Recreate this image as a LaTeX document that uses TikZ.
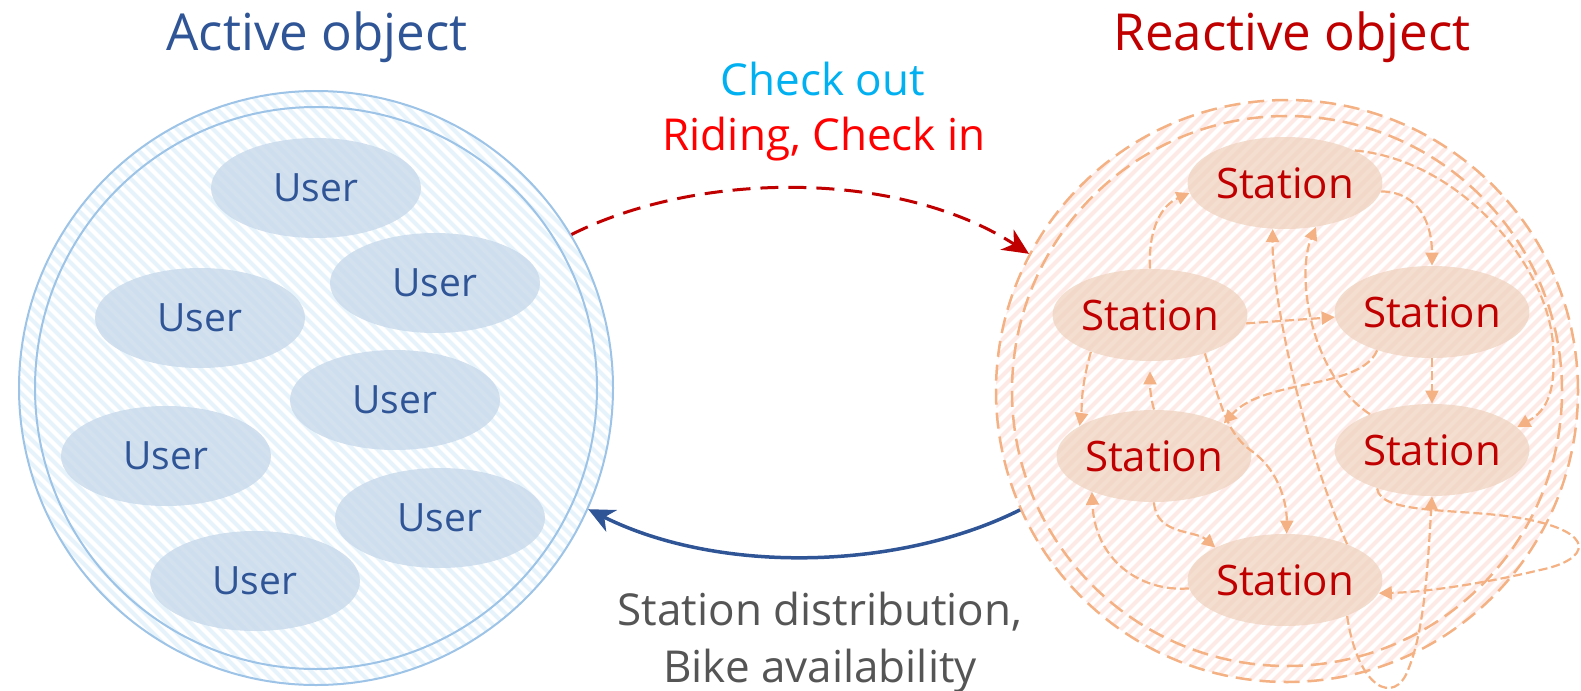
\documentclass[tikz,border=0pt]{standalone}
\usepackage{fontspec}
\setmainfont{Open Sans}
\usetikzlibrary{arrows.meta,shapes.geometric}
\definecolor{navy}{HTML}{2F5597}
\definecolor{darkred}{HTML}{C00000}
\definecolor{brightred}{HTML}{FF0000}
\definecolor{skyblue}{HTML}{00B0F0}
\definecolor{textgray}{HTML}{555555}
\definecolor{ringblue}{HTML}{9DC3E6}
\definecolor{stripeblue}{HTML}{E6F3FB}
\definecolor{userfill}{HTML}{C8D9EB}
\definecolor{peach}{HTML}{F4B183}
\definecolor{stripepink}{HTML}{FDEAE6}
\definecolor{stationfill}{HTML}{EFD3C0}
\begin{document}
\begin{tikzpicture}[x=0.5pt,y=-0.5pt,
  ring/.style={circle, inner sep=0pt, draw=ringblue, line width=1pt},
  dring/.style={circle, inner sep=0pt, draw=peach, line width=1.25pt, dash pattern=on 8pt off 4pt},
  user/.style={ellipse, inner sep=0pt, minimum width=105pt, minimum height=50pt,
    fill=userfill, fill opacity=0.8, text opacity=1, text=navy,
    font=\fontsize{19.5}{22}\selectfont},
  station/.style={ellipse, inner sep=0pt, minimum width=97pt, minimum height=46pt,
    fill=stationfill, fill opacity=0.75, text opacity=1, text=darkred,
    font=\fontsize{21}{24}\selectfont},
  flow/.style={draw=peach, line width=1.1pt, dash pattern=on 4.5pt off 2pt,
    -{Triangle[length=6.5pt,width=6.5pt]}},
  title/.style={anchor=base, font=\fontsize{25.5}{30}\selectfont},
  label/.style={anchor=base, font=\fontsize{22}{26}\selectfont},
]
\useasboundingbox (0,0) rectangle (1581,691);

% striped backgrounds of the two groups
\begin{scope}
  \clip (316,388) circle [radius=297];
  \foreach \k in {-62,...,62}
    \draw[stripeblue, line width=2pt] ({316+\k*12-420},-32) -- ({316+\k*12+420},808);
\end{scope}
\begin{scope}
  \clip (1287,391) circle [radius=291];
  \foreach \k in {-62,...,62}
    \draw[stripepink, line width=2pt] ({1287+\k*12-420},811) -- ({1287+\k*12+420},-29);
\end{scope}

% group outlines
\node[ring, minimum size=297pt] (Lcirc) at (316,388) {};
\node[ring, minimum size=281pt] (Lin) at (316,388) {};
\node[dring, minimum size=291pt] (Rcirc) at (1287,391) {};
\node[dring, minimum size=275pt] (Rin) at (1287,391) {};

% users
\node[user] (u1) at (316,188) {User};
\node[user] (u2) at (435,283) {User};
\node[user] (u3) at (200,318) {User};
\node[user] (u4) at (395,400) {User};
\node[user] (u5) at (166,456) {User};
\node[user] (u6) at (440,518) {User};
\node[user] (u7) at (255,581) {User};

% stations
\node[station] (T)  at (1285,183) {Station};
\node[station] (LM) at (1150,315) {Station};
\node[station] (RM) at (1432,312) {Station};
\node[station] (LL) at (1154,456) {Station};
\node[station] (RL) at (1432,450) {Station};
\node[station] (B)  at (1285,580) {Station};

% flows between stations
\draw[flow] (LM.north) .. controls (1148,228) and (1162,205) .. (T.186);
\draw[flow] (T.-5) .. controls (1420,192) and (1432,225) .. (RM.north);
\draw[flow] (T.25) .. controls (1460,160) and (1548,265) .. (1553,345)
  .. controls (1556,390) and (1548,410) .. (RL.15);
\draw[flow] (LM.-5) -- (RM.183);
\draw[flow] (RL.150) .. controls (1310,375) and (1296,275) .. (T.-55);
\draw[flow] (B.30) .. controls (1305,450) and (1272,300) .. (T.-105);
\draw[flow] (RM.-145) .. controls (1360,390) and (1265,378) .. (LL.25);
\draw[flow] (LM.-35) .. controls (1222,410) and (1228,435) .. (1253,452)
  .. controls (1280,472) and (1287,505) .. (B.88);
\draw[flow] (RM.south) -- (RL.north);
\draw[flow] (LM.-148) .. controls (1080,390) and (1082,410) .. (LL.158);
\draw[flow, shorten >=5pt] (LL.north) .. controls (1150,395) and (1150,385) .. (LM.south);
\draw[flow] (LL.-90) .. controls (1156,535) and (1195,530) .. (B.155);
\draw[flow] (B.185) .. controls (1140,592) and (1095,560) .. (LL.-150);
\draw[flow] (RL.-145) .. controls (1380,515) and (1460,508) .. (1520,518)
  .. controls (1600,532) and (1590,560) .. (1540,570)
  .. controls (1490,582) and (1430,592) .. (B.-8);
\draw[flow] (B.-30) .. controls (1358,690) and (1395,705) .. (1408,670)
  .. controls (1425,630) and (1428,560) .. (RL.-90);

% interaction arrows between the groups
\draw[darkred, line width=1.5pt, dash pattern=on 9pt off 5pt,
  -{Stealth[length=13pt,width=12pt,inset=4pt]}]
  (Lcirc.31) .. controls (700,170) and (900,170) .. (Rcirc.152);
\draw[navy, line width=1.75pt, -{Stealth[length=13pt,width=12pt,inset=4pt]}]
  (Rcirc.-156) .. controls (900,570) and (720,575) .. (Lcirc.-24);

% captions
\node[title, text=navy] (tA) at (317,50) {Active object};
\node[title, text=darkred] (tR) at (1292,50) {Reactive object};
\node[label, text=skyblue] (l1) at (823,95) {Check out};
\node[label, text=brightred] (l2) at (824,150) {Riding, Check in};
\node[label, text=textgray] (l3) at (820,625) {Station distribution,};
\node[label, text=textgray] (l4) at (820,682) {Bike availability};
\end{tikzpicture}
\end{document}
